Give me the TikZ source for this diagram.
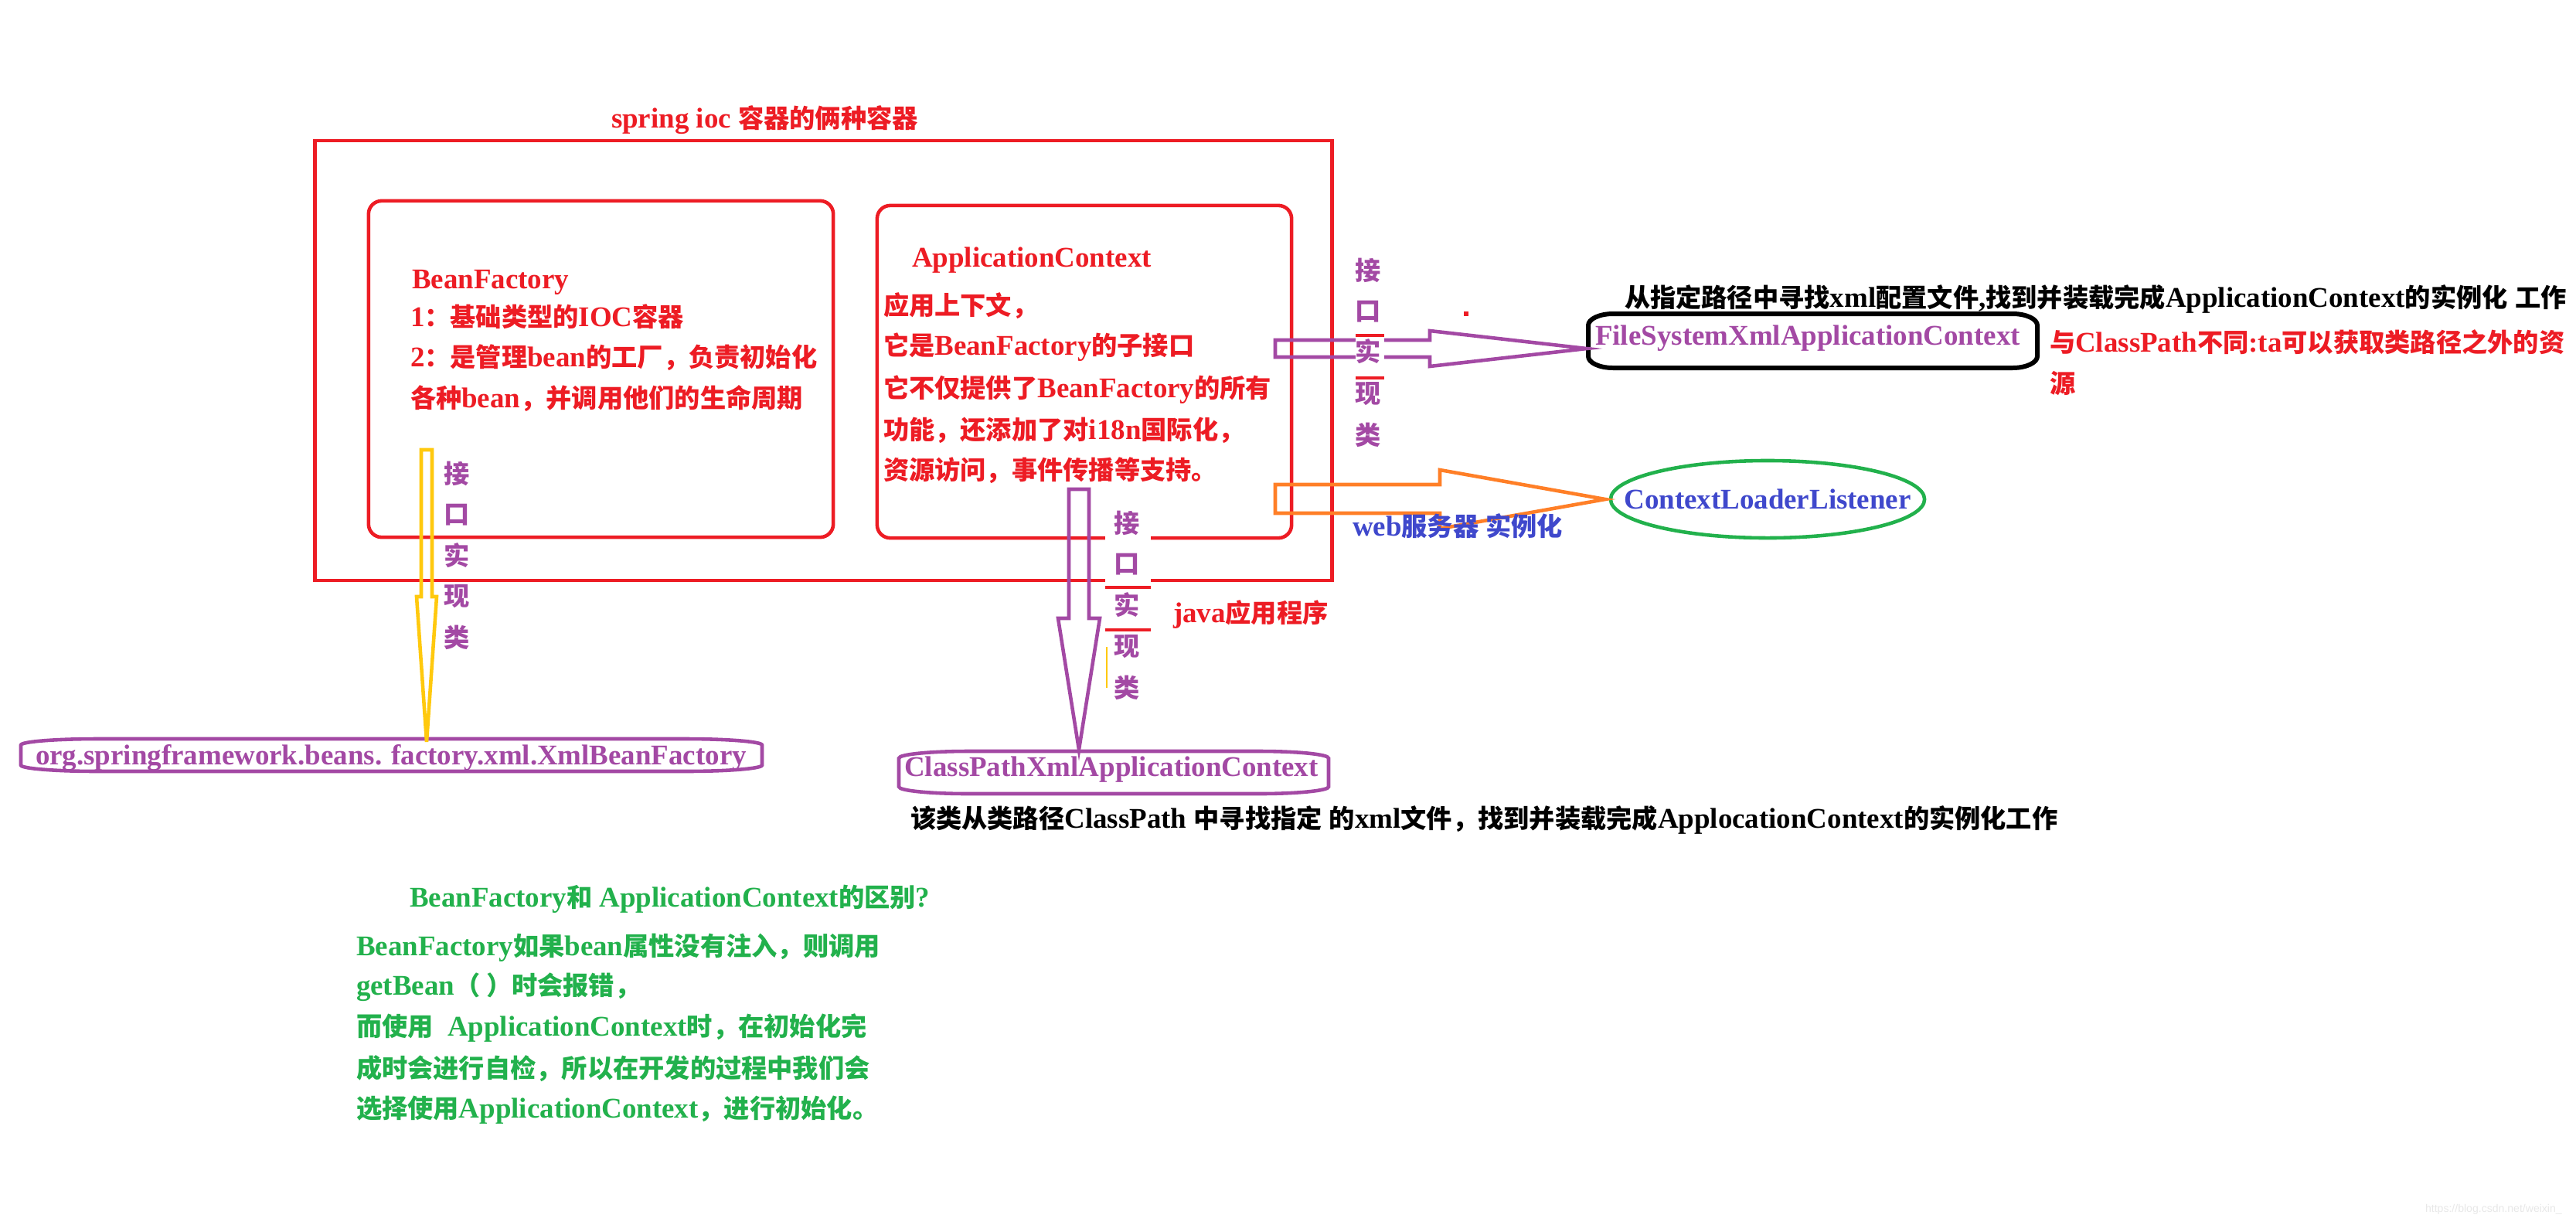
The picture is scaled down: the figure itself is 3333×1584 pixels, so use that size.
\documentclass[tikz,border=0pt]{standalone}
\usepackage{fontspec}
\setmainfont{Liberation Serif}
\newfontfamily\cjkfont{Noto Sans CJK SC}[Scale=0.9]
\newfontfamily\wmfont{Liberation Sans}
\newcommand\zh[1]{{\cjkfont #1}}
\usetikzlibrary{shapes.geometric}
\definecolor{pred}{HTML}{ED1C24}
\definecolor{ppurple}{HTML}{A349A4}
\definecolor{porange}{HTML}{FF7F27}
\definecolor{pyellow}{HTML}{FFC90E}
\definecolor{pgreen}{HTML}{22B14C}
\definecolor{pblue}{HTML}{3F48CC}
\tikzset{
  lw/.style={line width=1.3pt},
  txt/.style={anchor=west, inner sep=0pt, outer sep=0pt},
  lbl/.style={inner sep=0pt, outer sep=0pt, text=ppurple},
  boxn/.style={draw, lw, inner sep=0pt, outer sep=0pt},
  blockarrow/.style={lw, line join=miter},
}
% box with elliptical corners: x1,y1,x2,y2,rx,ry
\newcommand\bowbox[7]{%
  \draw[#1] (#2,#3+#7) arc[start angle=180, end angle=270, x radius=#6, y radius=#7]
    -- (#4-#6,#3) arc[start angle=270, end angle=360, x radius=#6, y radius=#7]
    -- (#4,#5-#7) arc[start angle=0, end angle=90, x radius=#6, y radius=#7]
    -- (#2+#6,#5) arc[start angle=90, end angle=180, x radius=#6, y radius=#7]
    -- cycle;}
\begin{document}
\begin{tikzpicture}[x=0.01cm, y=-0.01cm, font=\fontsize{10.5}{12}\selectfont\bfseries]
\fill[white] (0,0) rectangle (3333,1584);
\useasboundingbox (0,0) rectangle (3333,1584);

% title
\node[txt, text=pred] (title) at (791,155) {spring ioc \zh{容器的俩种容器}};

% containers
\node[boxn, draw=pred, minimum width=13.15cm, minimum height=5.69cm] (outer) at (1065.5,466.5) {};
\node[boxn, draw=pred, minimum width=6.01cm, minimum height=4.35cm, rounded corners=0.17cm] (bf) at (777.5,477.5) {};
\node[boxn, draw=pred, minimum width=5.36cm, minimum height=4.30cm, rounded corners=0.17cm] (ac) at (1403,481) {};

% BeanFactory text
\node[txt, text=pred] (bf1) at (533,365) {BeanFactory};
\node[txt, text=pred] (bf2) at (531,410) {1\zh{：基础类型的}IOC\zh{容器}};
\node[txt, text=pred] (bf3) at (531,463) {2\zh{：是管理}bean\zh{的工厂，负责初始化}};
\node[txt, text=pred] (bf4) at (531,516) {\zh{各种}bean\zh{，并调用他们的生命周期}};

% ApplicationContext text
\node[txt, text=pred] (ac1) at (1180,337) {ApplicationContext};
\node[txt, text=pred] (ac2) at (1143,396) {\zh{应用上下文，}};
\node[txt, text=pred] (ac3) at (1143,449) {\zh{它是}BeanFactory\zh{的子接口}};
\node[txt, text=pred] (ac4) at (1143,504) {\zh{它不仅提供了}BeanFactory\zh{的所有}};
\node[txt, text=pred] (ac5) at (1143,557) {\zh{功能，还添加了对}i18n\zh{国际化，}};
\node[txt, text=pred] (ac6) at (1143,609) {\zh{资源访问，事件传播等支持。}};

% targets
\bowbox{ppurple, lw}{27}{956}{986}{998}{100}{8}
\node[lbl, text=ppurple] (xbf) at (506,981) {org.springframework.beans. factory.xml.XmlBeanFactory};
\bowbox{ppurple, lw}{1163}{972}{1719}{1027}{90}{9}
\node[lbl, text=ppurple] (cp) at (1438,996) {ClassPathXmlApplicationContext};
\bowbox{black, line width=1.7pt}{2055}{406}{2636}{476}{32}{15}
\node[lbl, text=ppurple] (fs) at (2339,438) {FileSystemXmlApplicationContext};
\node[ellipse, draw=pgreen, lw, inner sep=0pt, minimum width=4.06cm, minimum height=1.0cm] (cll) at (2287,646) {};
\node[lbl, text=pblue] (cllt) at (cll.center) {ContextLoaderListener};

% yellow block arrow BeanFactory -> XmlBeanFactory
\coordinate (ytip) at (552,960);
\draw[blockarrow, pyellow] (545,582) -- (559,582) -- (559,772) -- (565,772) -- (ytip) -- (539,772) -- (545,772) -- cycle;

% purple block arrow ApplicationContext -> ClassPath
\coordinate (ptip) at (1396,970);
\draw[blockarrow, ppurple] (1383,633) -- (1409,633) -- (1409,800) -- (1423,800) -- (ptip) -- (1369,800) -- (1383,800) -- cycle;

% purple block arrow ApplicationContext -> FileSystem
\coordinate (ftip) at (2053,451);
\draw[blockarrow, ppurple] (1650,440) -- (1850,440) -- (1850,428) -- (ftip) -- (1850,474) -- (1850,462) -- (1650,462) -- cycle;

% orange block arrow ApplicationContext -> ContextLoaderListener
\coordinate (otip) at (2077,646);
\draw[blockarrow, porange] (1650,627) -- (1863,627) -- (1863,608) -- (otip) -- (1863,684) -- (1863,664) -- (1650,664) -- cycle;

% white patches and red marks around labels
\fill[white] (1430,688) rectangle (1489,756);
\fill[pred] (1430,758) rectangle (1489,762);
\fill[pred] (1430,813) rectangle (1489,817);
\fill[white] (1754,436.5) rectangle (1791,486);
\fill[pred] (1754,432) rectangle (1791,436);
\fill[pred] (1754,487) rectangle (1791,491);
\fill[pred] (1894,403) rectangle (1900,409);
\draw[pyellow, line width=0.6pt] (1432,837) -- (1432,890);

% vertical labels
\foreach \c/\y [count=\i] in {接/613,口/666,实/719,现/772,类/825}
  \node[lbl] (la\i) at (591,\y) {\zh{\c}};
\foreach \c/\y [count=\i] in {接/677,口/730,实/783,现/837,类/890}
  \node[lbl] (lb\i) at (1458,\y) {\zh{\c}};
\foreach \c/\y [count=\i] in {接/350,口/403,实/455,现/510,类/563}
  \node[lbl] (lc\i) at (1770,\y) {\zh{\c}};

% other texts
\node[txt, text=pred] (java) at (1518,795) {java\zh{应用程序}};
\node[txt, text=pblue] (web) at (1750,681) {web\zh{服务器} \zh{实例化}};
\node[txt] (fsnote) at (2102,387) {\zh{从指定路径中寻找}xml\zh{配置文件},\zh{找到并装载完成}ApplicationContext\zh{的实例化} \zh{工作}};
\node[txt, text=pred] (diff1) at (2652,443) {\zh{与}ClassPath\zh{不同}:ta\zh{可以获取类路径之外的资}};
\node[txt, text=pred] (diff2) at (2652,496) {\zh{源}};
\node[txt] (cpnote) at (1178,1061) {\zh{该类从类路径}ClassPath \zh{中寻找指定} \zh{的}xml\zh{文件，找到并装载完成}ApplocationContext\zh{的实例化工作}};

% green explanation
\node[txt, text=pgreen] (q) at (530,1163) {BeanFactory\zh{和} ApplicationContext\zh{的区别}?};
\node[txt, text=pgreen] (g1) at (461,1226) {BeanFactory\zh{如果}bean\zh{属性没有注入，则调用}};
\node[txt, text=pgreen] (g2) at (461,1277) {getBean\zh{（ ）时会报错，}};
\node[txt, text=pgreen] (g3) at (461,1330) {\zh{而使用}\ \ ApplicationContext\zh{时，在初始化完}};
\node[txt, text=pgreen] (g4) at (461,1383) {\zh{成时会进行自检，所以在开发的过程中我们会}};
\node[txt, text=pgreen] (g5) at (461,1436) {\zh{选择使用}ApplicationContext\zh{，进行初始化。}};

% watermark
\node[txt, text=black!9, font=\wmfont\fontsize{4}{5}\selectfont] (wm) at (3138,1565) {https://blog.csdn.net/weixin\_};
\end{tikzpicture}
\end{document}
